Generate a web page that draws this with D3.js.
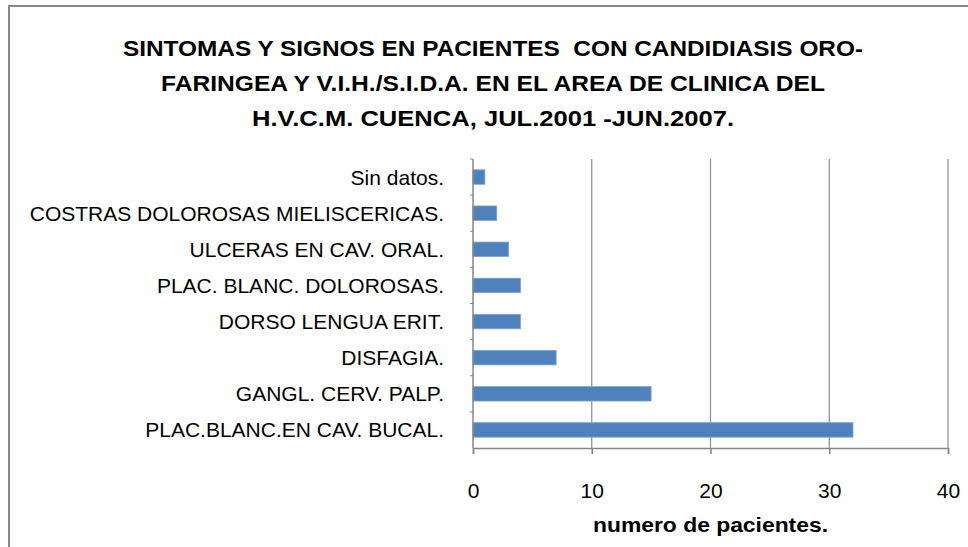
<!DOCTYPE html>
<html>
<head>
<meta charset="utf-8">
<script src="https://cdn.jsdelivr.net/npm/d3@7"></script>
<style>
  html, body { margin: 0; padding: 0; background: #ffffff; }
  svg { display: block; }
</style>
</head>
<body>
<svg id="chart" width="968" height="547"></svg>
<script>
// ---- data ----
const categories = [
  "Sin datos.",
  "COSTRAS DOLOROSAS MIELISCERICAS.",
  "ULCERAS EN CAV. ORAL.",
  "PLAC. BLANC. DOLOROSAS.",
  "DORSO LENGUA ERIT.",
  "DISFAGIA.",
  "GANGL. CERV. PALP.",
  "PLAC.BLANC.EN CAV. BUCAL."
];
const values = [1, 2, 3, 4, 4, 7, 15, 32];
const xTicks = [0, 10, 20, 30, 40];
const titleLines = [
  "SINTOMAS Y SIGNOS EN PACIENTES  CON CANDIDIASIS ORO-",
  "FARINGEA Y V.I.H./S.I.D.A. EN EL AREA DE CLINICA DEL",
  "H.V.C.M. CUENCA, JUL.2001 -JUN.2007."
];
const xAxisTitle = "numero de pacientes.";

// ---- layout ----
const W = 968, H = 547;
const plot = { left: 473, right: 948, top: 159, bottom: 448 };
const svg = d3.select("#chart");
const font = "'Liberation Sans', Arial, sans-serif";

// frame
svg.append("rect")
  .attr("x", 9).attr("y", 6)
  .attr("width", W + 20).attr("height", H + 20)
  .attr("fill", "#ffffff")
  .attr("stroke", "#878787").attr("stroke-width", 2);

// title
const titleWidths = [740, 664, 482];
const titleG = svg.append("g");
titleLines.forEach((t, i) => {
  const el = titleG.append("text")
    .attr("x", 493).attr("y", 56 + i * 35)
    .attr("text-anchor", "middle")
    .attr("font-family", font)
    .attr("font-weight", "bold")
    .attr("font-size", 22.5)
    .attr("fill", "#000")
    .style("white-space", "pre")
    .text(t);
  const w = el.node().getComputedTextLength();
  if (Math.abs(w - titleWidths[i]) > 4) {
    el.attr("textLength", titleWidths[i]).attr("lengthAdjust", "spacingAndGlyphs");
  }
});

// scales
const x = d3.scaleLinear().domain([0, 40]).range([plot.left, plot.right]);
const y = d3.scaleBand().domain(categories)
  .range([plot.top, plot.bottom]).paddingInner(0.6).paddingOuter(0.3);
const band = d3.scaleBand().domain(categories)
  .range([plot.top, plot.bottom]);

// gridlines
svg.append("g")
  .selectAll("line")
  .data(xTicks.filter(d => d > 0))
  .join("line")
  .attr("x1", d => x(d)).attr("x2", d => x(d))
  .attr("y1", plot.top).attr("y2", plot.bottom)
  .attr("stroke", "#8c8c8c").attr("stroke-width", 1.2);

// bars
svg.append("g")
  .selectAll("rect")
  .data(categories.map((c, i) => ({ c, v: values[i] })))
  .join("rect")
  .attr("x", x(0))
  .attr("y", d => y(d.c))
  .attr("width", d => x(d.v) - x(0))
  .attr("height", y.bandwidth())
  .attr("fill", "#4f81bd")
  .attr("stroke", "#7fa3d3").attr("stroke-width", 0.8);

// x axis
const xAxis = d3.axisBottom(x).tickValues(xTicks).tickSize(6).tickPadding(29);
const gx = svg.append("g")
  .attr("transform", `translate(0,${plot.bottom})`)
  .call(xAxis);
gx.select(".domain").attr("stroke", "#868686").attr("stroke-width", 1.5);
gx.selectAll(".tick line").attr("stroke", "#868686").attr("stroke-width", 1.5);
gx.selectAll(".tick text")
  .attr("font-family", font).attr("font-size", 21).attr("fill", "#000");

// y axis line and boundary ticks
svg.append("line")
  .attr("x1", plot.left).attr("x2", plot.left)
  .attr("y1", plot.top).attr("y2", plot.bottom)
  .attr("stroke", "#868686").attr("stroke-width", 1.5);
svg.append("g")
  .selectAll("line")
  .data(band.domain())
  .join("line")
  .attr("x1", plot.left - 3).attr("x2", plot.left)
  .attr("y1", d => band(d)).attr("y2", d => band(d))
  .attr("stroke", "#868686").attr("stroke-width", 1);

// category labels
const labelG = svg.append("g");
labelG.selectAll("text")
  .data(categories)
  .join("text")
  .attr("x", 444)
  .attr("y", d => y(d) + y.bandwidth() / 2)
  .attr("dy", "0.36em")
  .attr("text-anchor", "end")
  .attr("font-family", font)
  .attr("font-size", 21)
  .attr("fill", "#000")
  .text(d => d);

// x axis title
const at = svg.append("text")
  .attr("x", (plot.left + plot.right) / 2)
  .attr("y", 532)
  .attr("text-anchor", "middle")
  .attr("font-family", font)
  .attr("font-weight", "bold")
  .attr("font-size", 21)
  .attr("fill", "#000")
  .text(xAxisTitle);
const aw = at.node().getComputedTextLength();
if (Math.abs(aw - 235) > 4) at.attr("textLength", 235).attr("lengthAdjust", "spacingAndGlyphs");
</script>
</body>
</html>
